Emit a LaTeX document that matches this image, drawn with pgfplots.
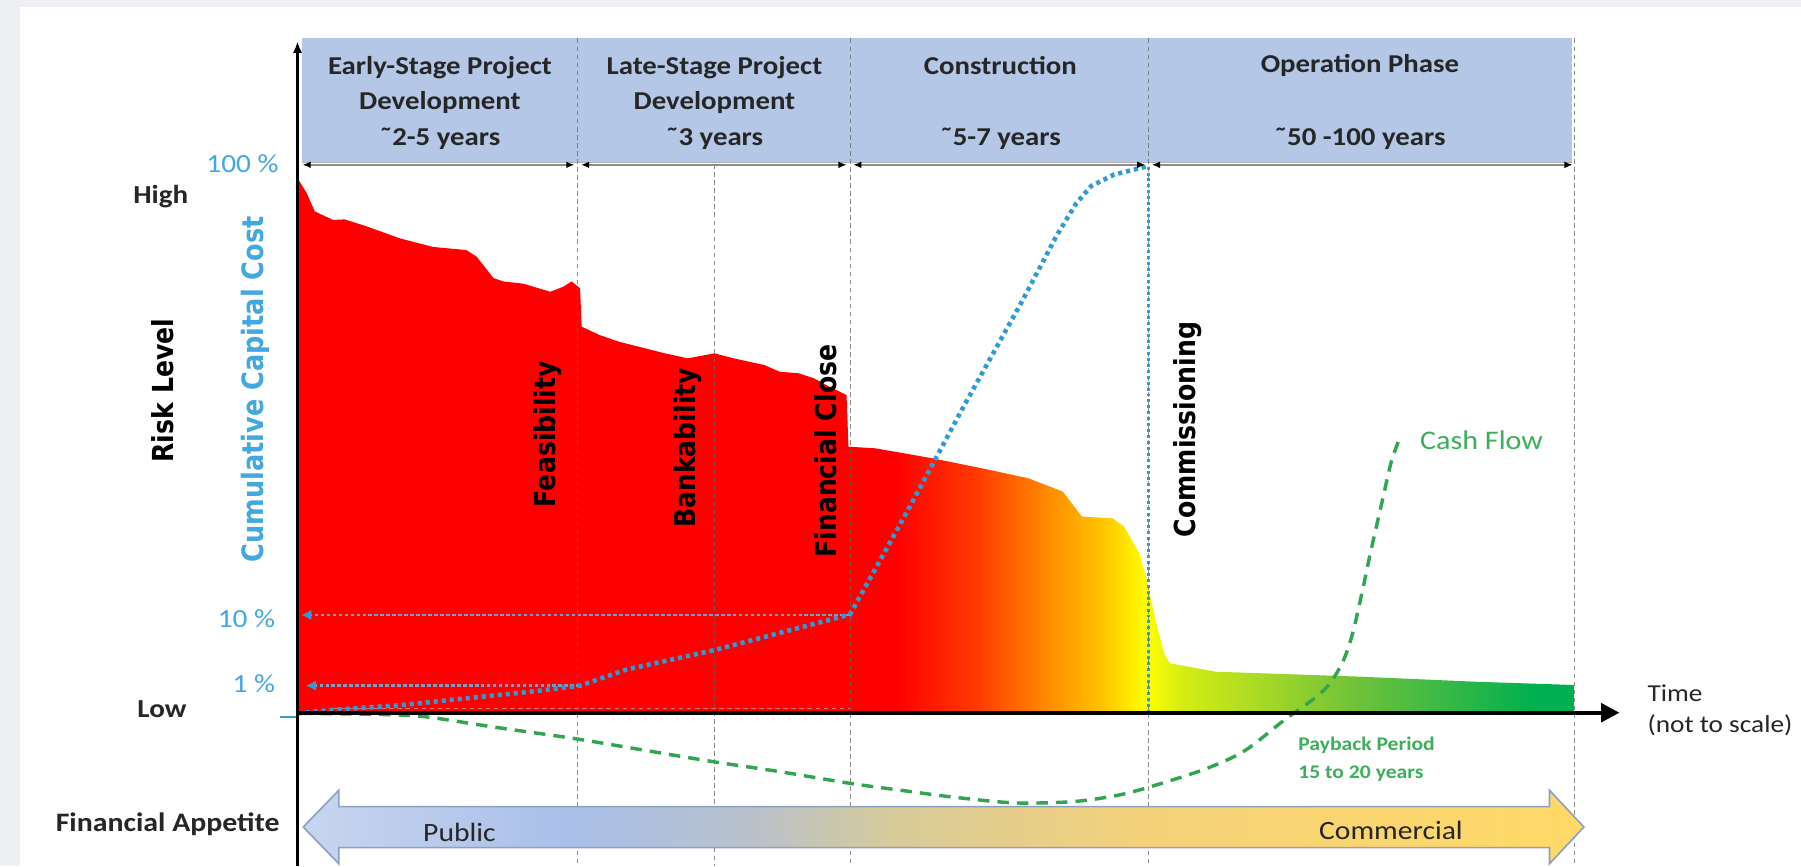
\documentclass[border=0pt]{standalone}
\usepackage{pgfplots}
\pgfplotsset{compat=1.18}
\usepackage{fontspec}
\usetikzlibrary{arrows.meta}
\newfontfamily\calfont{Carlito}[FakeStretch=1.12]
\newfontfamily\dvfont{DejaVu Sans}[FakeStretch=0.87]
\definecolor{bgc}{HTML}{EDEFF3}
\definecolor{band}{HTML}{B4C7E7}
\definecolor{cy}{HTML}{2E9BD7}
\definecolor{cylab}{HTML}{41A8E1}
\definecolor{arrC}{HTML}{7C9CC8}
\definecolor{grn}{HTML}{32A552}
\definecolor{grntxt}{HTML}{3CAF5A}
\definecolor{txt}{HTML}{262626}
\definecolor{pinkdash}{RGB}{200,120,130}
\definecolor{apborder}{RGB}{140,160,195}
\definecolor{r1}{HTML}{FF0000}
\definecolor{r2}{HTML}{FF3A00}
\definecolor{r3}{HTML}{FF8C00}
\definecolor{r4}{HTML}{FFC400}
\definecolor{r5}{HTML}{FFFF00}
\definecolor{r6}{HTML}{D4EC14}
\definecolor{r7}{HTML}{70C23A}
\definecolor{r8}{HTML}{00B050}
\definecolor{a1}{HTML}{C8D5EF}
\definecolor{a2}{HTML}{A9BFE8}
\definecolor{a3}{HTML}{B8C1CC}
\definecolor{a4}{HTML}{D8CB98}
\definecolor{a5}{HTML}{F5D27A}
\definecolor{a6}{HTML}{FFD966}
\pgfdeclarehorizontalshading{risk}{100bp}{color(0bp)=(r1); color(25bp)=(r1); color(48.4bp)=(r1); color(51.6bp)=(r2); color(54.4bp)=(r3); color(56.5bp)=(r4); color(58.2bp)=(r5); color(59.7bp)=(r6); color(66.4bp)=(r7); color(73.4bp)=(r8); color(75bp)=(r8); color(100bp)=(r8)}
\pgfdeclarehorizontalshading{appetite}{100bp}{color(0bp)=(a1); color(25bp)=(a1); color(35.6bp)=(a2); color(42.3bp)=(a3); color(48.3bp)=(a4); color(58bp)=(a5); color(75bp)=(a6); color(100bp)=(a6)}
\tikzset{
  every node/.append style={inner sep=0pt},
  dl/.style={black!60, line width=0.4pt, dash pattern=on 2pt off 1.5pt, opacity=0.75},
  dim/.style={black!45, line width=0.6pt, {Latex[length=3.5pt,width=3pt,color=black]}-{Latex[length=3.5pt,width=3pt,color=black]}},
  bandtxt/.style={anchor=base, text=txt, font=\calfont\bfseries\fontsize{11.2}{13}\selectfont},
  vlab/.style={rotate=90, anchor=base west, text=black, font=\dvfont\bfseries\fontsize{12.6}{14}\selectfont},
  pct/.style={anchor=base east, text=cylab, font=\calfont\fontsize{11.4}{13}\selectfont},
}
\begin{document}
\begin{tikzpicture}
\begin{axis}[
  at={(0,0)}, anchor=south west,
  scale only axis, width=784pt, height=377pt,
  xmin=0, xmax=1568, ymin=0, ymax=754, y dir=reverse,
  hide axis, clip=false,
]
% background
\fill[bgc] (axis cs:0,0) rectangle (axis cs:1568,754);
\fill[white] (axis cs:17,6) rectangle (axis cs:1568,754);
% header band
\fill[band] (axis cs:263,33.5) rectangle (axis cs:1369,141);
\draw[black!30, line width=0.6pt] (axis cs:263,141.5) -- (axis cs:1369,141.5);
% risk level area
\addplot[draw=none, shade, shading=risk] coordinates {
 (259,155) (267,168) (274,184) (290,191.5) (300,191) (319,197) (348,207.5) (377,215)
 (406,217.7) (415,223.5) (429.5,242) (438,245) (455.6,247) (479,254) (490.5,249.6)
 (497.7,245) (505,251) (506.4,284.4) (522,291.7) (538.8,297.5) (578.8,307.6)
 (598.8,312) (622,307.6) (638.8,312) (665.4,317.8) (678.8,323.6) (695.4,325)
 (708.7,329.4) (722,336.6) (737,343.9) (738.7,388.9) (762,390.3) (812,399)
 (862,409.2) (895.3,416.4) (925.3,428) (942,449.8) (968.7,451.3) (978.6,458.5)
 (992,481.7) (998.6,505) (1006,539.8) (1013.5,568.8) (1018.5,577.5) (1058.5,584.8)
 (1183.9,589.1) (1283.9,593.5) (1371,596.4) (1371,620) (259,620)} -- cycle;
% divider lines
\draw[dl] (axis cs:503,33.5) -- (axis cs:503,754);
\draw[dl] (axis cs:622,143) -- (axis cs:622,754);
\draw[dl] (axis cs:740,33.5) -- (axis cs:740,754);
\draw[dl] (axis cs:1000,33.5) -- (axis cs:1000,754);
\draw[dl] (axis cs:1371,33.5) -- (axis cs:1371,754);
\draw[pinkdash, line width=0.5pt, dash pattern=on 2pt off 1.5pt] (axis cs:290,616.5) -- (axis cs:740,616.5);
% 1% and 10% reference arrows
\addplot[arrC, line width=1.2pt, dash pattern=on 1.6pt off 1pt, -{Latex[length=4.5pt,width=4.5pt,color=cy]}] coordinates {(505,597) (266,597)};
\addplot[arrC, line width=1.2pt, dash pattern=on 1.6pt off 1pt, -{Latex[length=4.5pt,width=4.5pt,color=cy]}] coordinates {(740,535.4) (262,535.4)};
% cumulative capital cost
\addplot[cy, line width=2pt, dash pattern=on 1.8pt off 1.7pt] coordinates {
 (259,621) (290,618) (348,614) (406,608) (464,602) (505,597) (545,583) (622,566)
 (679,551) (740,535) (790,445) (840,352) (890,262) (920,205) (937,177) (950,162)
 (970,152) (998,145)};
\addplot[cy, line width=1.4pt, dash pattern=on 1.3pt off 1.3pt] coordinates {(1000,145) (1000,620)};
% financial appetite arrow
\addplot[draw=apborder, line width=0.7pt, shade, shading=appetite] coordinates {
 (264,720) (295,688) (295,702.3) (1349,702.3) (1349,688) (1379,720) (1349,752)
 (1349,738) (295,738) (295,752)} -- cycle;
% cash flow
\addplot[grn, line width=1.5pt, dash pattern=on 5pt off 3.5pt, smooth] coordinates {
 (262,621) (330,622) (370,624) (430,633) (500,643) (560,653) (620,663) (680,672)
 (740,682) (784,688) (830,694) (883,699) (933,698) (970,693) (998,686) (1048,670)
 (1083,654) (1118,627) (1143,609) (1158,595) (1170,574) (1178,550) (1186,515)
 (1193,482) (1203,438) (1211,403) (1218,383)};
% axes
\draw[black, line width=1.5pt, -{Latex[length=5pt,width=4pt]}] (axis cs:259,754) -- (axis cs:259,36);
\draw[black, line width=1.8pt, -{Triangle[length=8pt,width=8pt]}] (axis cs:258,620.5) -- (axis cs:1410,620.5);
\draw[cy, line width=1pt] (axis cs:244,624) -- (axis cs:258,624);
% dimension arrows
\draw[dim] (axis cs:263.5,143.5) -- (axis cs:500,143.5);
\draw[dim] (axis cs:506,143.5) -- (axis cs:737,143.5);
\draw[dim] (axis cs:743,143.5) -- (axis cs:997,143.5);
\draw[dim] (axis cs:1003,143.5) -- (axis cs:1369,143.5);
% band text
\node[bandtxt] at (axis cs:383,64.5) {Early-Stage Project};
\node[bandtxt] at (axis cs:383,95.5) {Development};
\node[bandtxt] at (axis cs:383,126.5) {˜2-5 years};
\node[bandtxt] at (axis cs:622,64.5) {Late-Stage Project};
\node[bandtxt] at (axis cs:622,95.5) {Development};
\node[bandtxt] at (axis cs:622,126.5) {˜3 years};
\node[bandtxt] at (axis cs:871,64.5) {Construction};
\node[bandtxt] at (axis cs:871,126.5) {˜5-7 years};
\node[bandtxt] at (axis cs:1184,63.5) {Operation Phase};
\node[bandtxt] at (axis cs:1184,126.5) {˜50 -100 years};
% vertical labels
\node[vlab] at (axis cs:484,442) {Feasibility};
\node[vlab] at (axis cs:605.5,460) {Bankability};
\node[vlab] at (axis cs:728.5,486) {Financial Close};
\node[vlab] at (axis cs:1040.5,468) {Commissioning};
\node[vlab] at (axis cs:151,403) {Risk Level};
\node[vlab, text=cylab, font=\dvfont\bfseries\fontsize{12.8}{14}\selectfont] at (axis cs:229.5,490) {Cumulative Capital Cost};
% left labels
\node[pct] at (axis cs:243,150.5) {100 \%};
\node[pct] at (axis cs:240,546.5) {10 \%};
\node[pct] at (axis cs:240,603) {1 \%};
\node[anchor=base, text=txt, font=\calfont\bfseries\fontsize{11.3}{13}\selectfont] at (axis cs:140,177) {High};
\node[anchor=base, text=txt, font=\calfont\bfseries\fontsize{11.3}{13}\selectfont] at (axis cs:141,625) {Low};
\node[anchor=base, text=txt, font=\calfont\bfseries\fontsize{11.6}{13}\selectfont] at (axis cs:146,724) {Financial Appetite};
% right and bottom labels
\node[anchor=base west, text=txt, font=\calfont\fontsize{10.6}{13}\selectfont] at (axis cs:1434,611) {Time};
\node[anchor=base west, text=txt, font=\calfont\fontsize{10.6}{13}\selectfont] at (axis cs:1434,638) {(not to scale)};
\node[anchor=base west, text=grntxt, font=\calfont\fontsize{11.7}{13}\selectfont] at (axis cs:1236,391) {Cash Flow};
\node[anchor=base west, text=grntxt, font=\calfont\bfseries\fontsize{8.4}{10}\selectfont] at (axis cs:1130,653) {Payback Period};
\node[anchor=base west, text=grntxt, font=\calfont\bfseries\fontsize{8.4}{10}\selectfont] at (axis cs:1130,678) {15 to 20 years};
\node[anchor=base, text=txt, font=\calfont\fontsize{11.5}{13}\selectfont] at (axis cs:400,733) {Public};
\node[anchor=base, text=txt, font=\calfont\fontsize{11.5}{13}\selectfont] at (axis cs:1211,731) {Commercial};
\end{axis}
\pgfresetboundingbox
\path[use as bounding box] (current axis.south west) rectangle (current axis.north east);
\end{tikzpicture}
\end{document}
